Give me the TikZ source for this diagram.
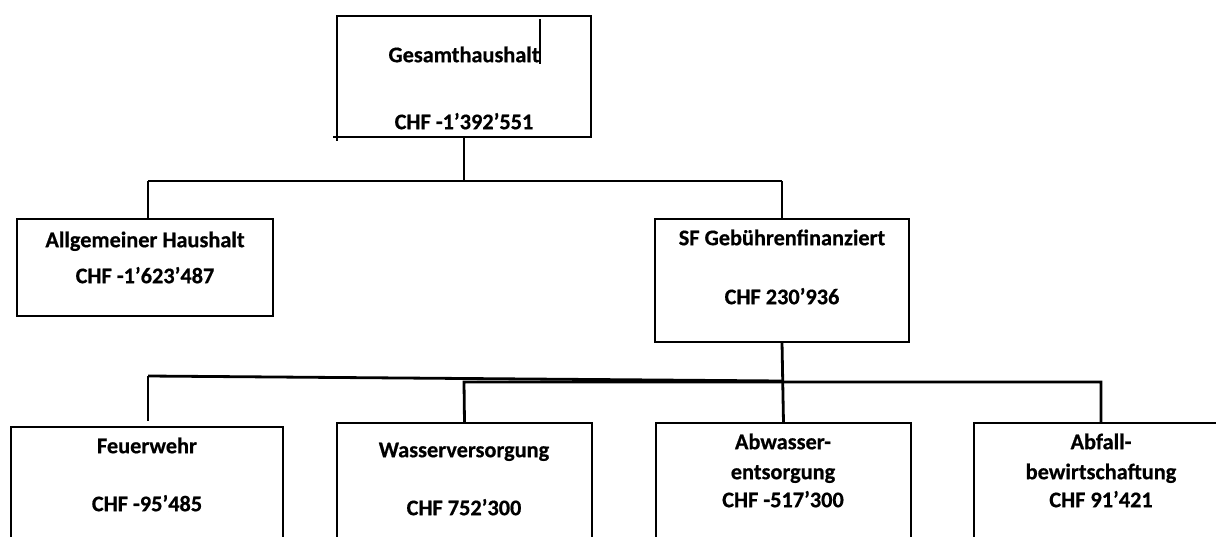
\documentclass[tikz,border=0pt]{standalone}
\usepackage{fontspec}
\setmainfont{Carlito}[BoldFeatures={FakeBold=0.6}]
\begin{document}
\begin{tikzpicture}[x=1pt,y=-1pt,line width=2.8pt,
  box/.style={draw,rectangle,anchor=north west,inner sep=0pt,outer sep=0pt},
  lbl/.style={inner sep=0pt,text height=18pt,text depth=3.6pt,
    font=\fontsize{22.3}{29}\selectfont\bfseries}]
\useasboundingbox (0,0) rectangle (1216,536);
\clip (0,0) rectangle (1216,536);
% boxes
\node[box,minimum width=254pt,minimum height=121pt] (top) at (337,16) {};
\node[box,minimum width=256pt,minimum height=97pt] (allg) at (17,219) {};
\node[box,minimum width=254pt,minimum height=123pt] (sf) at (655,219) {};
\node[box,minimum width=272pt,minimum height=160pt] (feu) at (11,427) {};
\node[box,minimum width=255pt,minimum height=160pt] (wass) at (337,423) {};
\node[box,minimum width=255pt,minimum height=160pt] (abw) at (656,423) {};
\node[box,minimum width=254pt,minimum height=160pt] (abf) at (974,423) {};
% texts
\node[lbl] (t1) at (464,55) {Gesamthaushalt};
\node[lbl] (t2) at (464,122) {CHF -1’392’551};
\node[lbl] (a1) at (145,240) {Allgemeiner Haushalt};
\node[lbl] (a2) at (145,276) {CHF -1’623’487};
\node[lbl] (s1) at (782,238) {SF Gebührenfinanziert};
\node[lbl] (s2) at (782,297) {CHF 230’936};
\node[lbl] (f1) at (147,446) {Feuerwehr};
\node[lbl] (f2) at (147,504) {CHF -95’485};
\node[lbl] (w1) at (464,450) {Wasserversorgung};
\node[lbl] (w2) at (464,508) {CHF 752’300};
\node[lbl] (b1) at (783,442) {Abwasser-};
\node[lbl] (b2) at (783,472) {entsorgung};
\node[lbl] (b3) at (783,500) {CHF -517’300};
\node[lbl] (c1) at (1101,442) {Abfall-};
\node[lbl] (c2) at (1101,472) {bewirtschaftung};
\node[lbl] (c3) at (1101,500) {CHF 91’421};
% cursor mark in top box
\coordinate (cu1) at (540,19);
\coordinate (cu2) at (540,64);
\draw[line width=1.5pt] (cu1) -- (cu2);
% small overhangs of top box
\coordinate (ov1) at (333,137);
\coordinate (ov2) at (337,141);
\draw[line width=1.5pt] (ov1) -- (top.south west) -- (ov2);
% upper connectors
\coordinate (j1) at (464,181);
\coordinate (jl) at (148,181);
\coordinate (jr) at (782,181);
\coordinate (jla) at (148,219);
\draw (top.south) -- (j1);
\draw (jl) -- (jr);
\draw (jl) -- (jla);
\draw (jr) -- (sf.north);
% lower connectors
\coordinate (fl) at (148,376);
\coordinate (fr) at (782,381);
\coordinate (fe) at (148,421);
\coordinate (hl) at (464,382);
\coordinate (hr) at (1101,382);
\coordinate (ab) at (1101,423);
\draw (sf.south) -- (abw.north);
\draw (fl) -- (fr);
\draw (fl) -- (fe);
\draw (wass.north) -- (hl) -- (hr) -- (ab);
\end{tikzpicture}
\end{document}
